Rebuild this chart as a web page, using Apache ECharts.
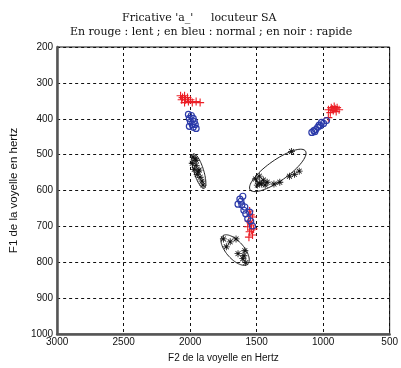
<!DOCTYPE html>
<html>
<head>
<meta charset="utf-8">
<script src="https://cdn.jsdelivr.net/npm/echarts@6/dist/echarts.min.js"></script>
<style>
  html, body { margin: 0; padding: 0; background: #fff; }
  #chart { width: 401px; height: 368px; }
</style>
</head>
<body>
<div id="chart"></div>
<script>
// Formant plane: F2 (x, Hz) against F1 (y, Hz), both axes reversed.
const xTicks = [3000, 2500, 2000, 1500, 1000, 500];
const yTicks = [200, 300, 400, 500, 600, 700, 800, 900, 1000];

// Slow tempo (red crosses): [F2, F1]
const lentA = [[2072, 336], [2057, 341], [2042, 336], [2064, 347], [2035, 347], [2020, 341], [2013, 352], [1998, 347], [1984, 355], [1955, 352], [1925, 355], [2042, 355]];
const lentI = [[960, 375], [939, 369], [917, 366], [895, 369], [880, 375], [924, 377], [902, 380], [946, 383], [961, 397], [910, 372], [932, 373]];
const lentO = [[1553, 657], [1531, 674], [1560, 685], [1538, 696], [1523, 707], [1553, 715], [1531, 724], [1567, 701], [1545, 668], [1548, 690], [1540, 710], [1558, 730]];

// Normal tempo (blue circles)
const normalA = [[2013, 388], [1991, 391], [2006, 399], [1977, 399], [1998, 408], [1969, 408], [1984, 416], [1962, 416], [2006, 421], [1977, 424], [1955, 427]];
const normalI = [[975, 405], [997, 413], [1019, 419], [1041, 424], [1070, 433], [1085, 438], [1056, 430], [1012, 410], [1030, 418], [1063, 436]];
const normalO = [[1626, 624], [1604, 616], [1640, 638], [1611, 640], [1589, 646], [1582, 665], [1553, 660], [1545, 685], [1531, 699], [1567, 679], [1618, 630], [1596, 655]];

// Fast tempo (black stars)
const rapideA = [[1977, 507], [1955, 516], [1984, 524], [1955, 530], [1969, 541], [1933, 543], [1947, 555], [1925, 563], [1911, 574], [1903, 585], [1962, 512], [1940, 548]];
const rapideI = [[1238, 491], [1509, 568], [1480, 579], [1450, 571], [1421, 577], [1480, 560], [1370, 582], [1326, 577], [1253, 560], [1180, 546], [1216, 555], [1495, 585], [1465, 582], [1436, 585]];
const rapideO = [[1750, 735], [1728, 757], [1699, 743], [1640, 776], [1604, 790], [1589, 768], [1582, 801], [1655, 735], [1596, 782]];

// Dispersion ellipses for the fast tempo, in Hz:
// [centre F2, centre F1, half-axis 1 (dF2, dF1), half-axis 2 (dF2, dF1)]
const ellipses = [
  [1935, 546, -40, 48, -35, -4],
  [1341, 544, -208, -54, -43, 24],
  [1662, 766, -95, 39, -48, -17]
];

const plusPath = 'path://M4.3,0H5.7V10H4.3ZM0,4.3H10V5.7H0Z';
const starPath = 'path://M4.4,0H5.6V10H4.4ZM0,4.4H10V5.6H0Z' +
  'M1.9,1.1L8.9,8.1L8.1,8.9L1.1,1.9Z' +
  'M8.1,1.1L8.9,1.9L1.9,8.9L1.1,8.1Z';

const RED = '#ec1f26';
const BLUE = '#2b3aa9';
const BLACK = '#111';

function redSeries(data) {
  return { type: 'scatter', data, symbol: plusPath, symbolSize: 8,
    itemStyle: { color: RED, opacity: 1 }, z: 3 };
}
function blueSeries(data) {
  return { type: 'scatter', data, symbol: 'circle', symbolSize: 6,
    itemStyle: { color: 'rgba(0,0,0,0)', borderColor: BLUE, borderWidth: 1.2, opacity: 1 }, z: 3 };
}
function blackSeries(data) {
  return { type: 'scatter', data, symbol: starPath, symbolSize: 7,
    itemStyle: { color: BLACK, opacity: 1 }, z: 3 };
}

const tickFont = { fontFamily: 'Liberation Sans Narrow, Liberation Sans, sans-serif', fontSize: 10, color: '#111' };
const titleFont = { fontFamily: 'DejaVu Serif, serif', fontSize: 11, fontWeight: 'normal', color: '#111' };

const chart = echarts.init(document.getElementById('chart'), null, { renderer: 'canvas' });
chart.setOption({
  animation: false,
  backgroundColor: '#fff',
  title: [
    { text: "Fricative 'a_'     locuteur SA", left: 117, top: 8, textStyle: titleFont },
    { text: 'En rouge : lent ; en bleu : normal ; en noir : rapide', left: 65, top: 22, textStyle: titleFont }
  ],
  grid: { left: 54, right: 5, top: 47, bottom: 32, show: true, borderColor: '#111', borderWidth: 1, backgroundColor: '#fff' },
  xAxis: {
    type: 'value', inverse: true, min: 500, max: 3000, interval: 500,
    name: 'F2 de la voyelle en Hertz', nameLocation: 'middle', nameGap: 19,
    nameTextStyle: { ...tickFont, fontSize: 10 },
    axisLine: { show: true, lineStyle: { color: '#555', width: 2.5 } },
    axisTick: { show: false },
    axisLabel: { ...tickFont, margin: 3, showMinLabel: true, showMaxLabel: true,
      formatter: v => xTicks.includes(v) ? String(v) : '' },
    splitLine: { show: true, lineStyle: { type: [3, 3], color: '#111', width: 1 } }
  },
  yAxis: {
    type: 'value', inverse: true, min: 200, max: 1000, interval: 100,
    name: 'F1 de la voyelle en hertz', nameLocation: 'middle', nameGap: 28, nameRotate: 90,
    nameTextStyle: { ...tickFont, fontSize: 11.5 },
    axisLine: { show: true, lineStyle: { color: '#555', width: 2.5 } },
    axisTick: { show: false },
    axisLabel: { ...tickFont, margin: 4,
      formatter: v => yTicks.includes(v) ? String(v) : '' },
    splitLine: { show: true, lineStyle: { type: [3, 3], color: '#111', width: 1 } }
  },
  series: [
    {
      type: 'custom',
      data: ellipses,
      z: 2,
      renderItem: function (params, api) {
        const cx = api.value(0), cy = api.value(1);
        const ax = api.value(2), ay = api.value(3);
        const bx = api.value(4), by = api.value(5);
        const pts = [];
        for (let k = 0; k <= 72; k++) {
          const t = k / 72 * Math.PI * 2;
          pts.push(api.coord([cx + ax * Math.cos(t) + bx * Math.sin(t),
                              cy + ay * Math.cos(t) + by * Math.sin(t)]));
        }
        return { type: 'polyline', shape: { points: pts },
          style: { fill: null, stroke: '#222', lineWidth: 1 } };
      }
    },
    redSeries(lentA), redSeries(lentI), redSeries(lentO),
    blueSeries(normalA), blueSeries(normalI), blueSeries(normalO),
    blackSeries(rapideA), blackSeries(rapideI), blackSeries(rapideO)
  ]
});
</script>
</body>
</html>
